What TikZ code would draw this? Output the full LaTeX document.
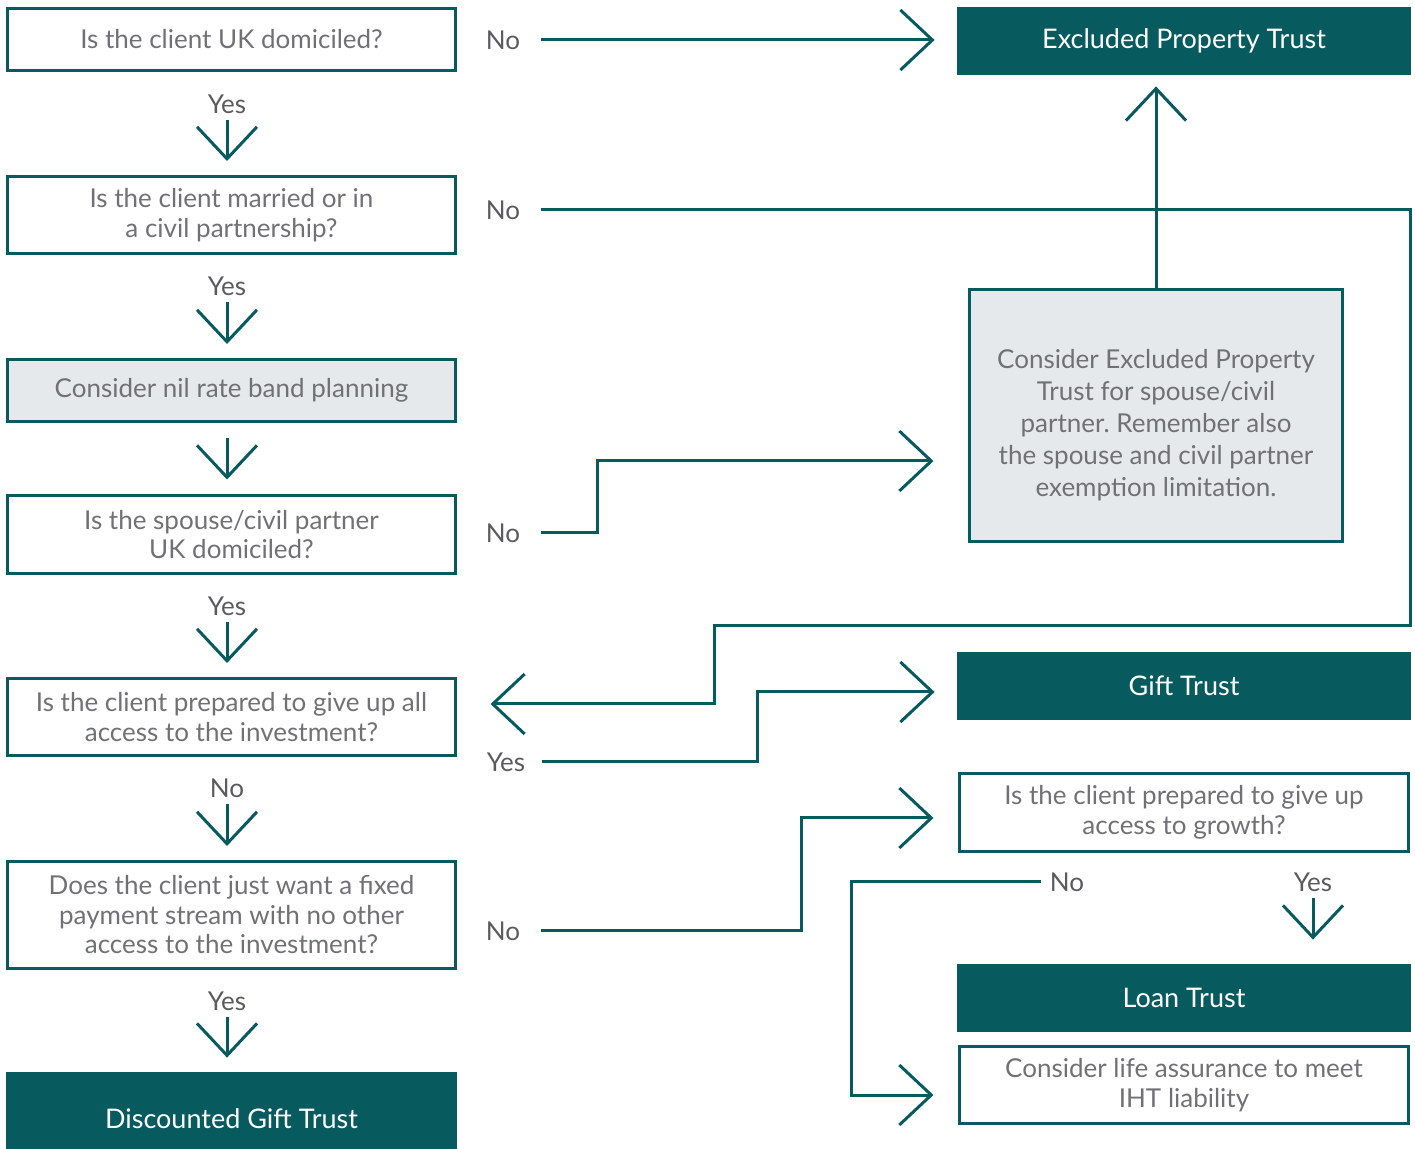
\documentclass[tikz,border=0pt]{standalone}
\usepackage{fontspec}
\setmainfont{Lato}
\usetikzlibrary{arrows.meta}
\definecolor{petrol}{HTML}{075B5E}
\definecolor{boxgrey}{HTML}{E6E9EC}
\definecolor{txtgrey}{HTML}{707174}
\definecolor{lblgrey}{HTML}{5A5B5E}
\frenchspacing

\begin{document}
\begin{tikzpicture}[x=0.5pt, y=-0.5pt,
	question/.style={draw=petrol, line width=1.5pt, text=txtgrey, align=center, inner sep=0pt,
		font=\fontsize{13}{14.75}\selectfont},
	greybox/.style={question, fill=boxgrey},
	outcome/.style={fill=petrol, text=white, inner sep=0pt, font=\fontsize{13.5}{15}\selectfont},
	answer/.style={text=lblgrey, inner sep=1pt, font=\fontsize{13}{15}\selectfont},
	arr/.style={draw=petrol, line width=1.5pt, -{Straight Barb[length=16pt, width=30pt]}}]
	\useasboundingbox (0,0) rectangle (1415,1149);

	% left column
	\node[question, minimum width=224pt, minimum height=31pt] (dom) at (231.5,39.5) {Is the client UK domiciled?};
	\node[question, minimum width=224pt, minimum height=38.5pt] (married) at (231.5,215) {Is the client married or in\\a civil partnership?};
	\node[greybox, minimum width=224pt, minimum height=31pt] (nrb) at (231.5,390.5) {Consider nil rate band planning};
	\node[question, minimum width=224pt, minimum height=39pt] (spouse) at (231.5,534.5) {Is the spouse/civil partner\\UK domiciled?};
	\node[question, minimum width=224pt, minimum height=38.5pt] (giveup) at (231.5,717) {Is the client prepared to give up all\\access to the investment?};
	\node[question, minimum width=224pt, minimum height=53.5pt] (fixed) at (231.5,915) {Does the client just want a fixed\\payment stream with no other\\access to the investment?};
	\node[outcome, minimum width=225.5pt, minimum height=47pt] (dgt) at (231.5,1119) {Discounted Gift Trust};

	% right column
	\node[outcome, minimum width=227pt, minimum height=34pt] (ept) at (1184,41) {Excluded Property Trust};
	\node[greybox, minimum width=186.5pt, minimum height=126pt, font=\fontsize{13}{16}\selectfont] (cept) at (1156,415.5)
		{\rule{0pt}{19pt}Consider Excluded Property\\Trust for spouse/civil\\partner. Remember also\\the spouse and civil partner\\exemption limitation.};
	\node[outcome, minimum width=227pt, minimum height=34pt] (gift) at (1184,686) {Gift Trust};
	\node[question, minimum width=224.5pt, minimum height=39pt] (growth) at (1184,812.5) {Is the client prepared to give up\\access to growth?};
	\node[outcome, minimum width=227pt, minimum height=34pt] (loan) at (1184,998) {Loan Trust};
	\node[question, minimum width=224.5pt, minimum height=38.5pt] (life) at (1184,1085) {Consider life assurance to meet\\IHT liability};

	% answers
	\node[answer] (no1) at (503,40) {No};
	\node[answer] (yes1) at (227,104) {Yes};
	\node[answer] (no2) at (503,210) {No};
	\node[answer] (yes2) at (227,286) {Yes};
	\node[answer] (no3) at (503,533) {No};
	\node[answer] (yes3) at (227,606) {Yes};
	\node[answer] (no4) at (227,788) {No};
	\node[answer] (yes4) at (506,762) {Yes};
	\node[answer] (no5) at (503,931) {No};
	\node[answer] (yes5) at (227,1001) {Yes};
	\node[answer] (no6) at (1067,882) {No};
	\node[answer] (yes6) at (1313,882) {Yes};

	\coordinate (rtop) at (1410,210);
	\coordinate (rbend) at (714,626);
	\coordinate (c3) at (597,461);
	\coordinate (c4) at (757,692);
	\coordinate (c5) at (801,818);
	\coordinate (c6) at (851,1095);

	% down the left
	\draw[arr, shorten <=2pt, shorten >=7pt] (yes1.south) -- (yes1.south |- married.north);
	\draw[arr, shorten <=2pt, shorten >=7pt] (yes2.south) -- (yes2.south |- nrb.north);
	\draw[arr, shorten <=7.75pt, shorten >=7.25pt] ([xshift=-2.25pt]nrb.south) -- ([xshift=-2.25pt]spouse.north);
	\draw[arr, shorten <=2pt, shorten >=7pt] (yes3.south) -- (yes3.south |- giveup.north);
	\draw[arr, shorten <=2pt, shorten >=7pt] (no4.south) -- (no4.south |- fixed.north);
	\draw[arr, shorten <=2pt, shorten >=7pt] (yes5.south) -- (yes5.south |- dgt.north);

	% across to the right
	\draw[arr, shorten <=9.5pt, shorten >=11pt] (no1.east) -- (no1.east -| ept.west);
	\draw[arr, shorten <=9.5pt, shorten >=16.75pt] (no2.east) -- (no2.east -| rtop) |- (rbend) |- ([yshift=6.5pt]giveup.east);
	\draw[arr, shorten <=9.5pt, shorten >=17.25pt] (no3.east) -| (c3) -- (c3 -| cept.west);
	\draw[arr, shorten >=5.5pt] (cept.north) -- (cept.north |- ept.south);
	\draw[arr, shorten <=7pt, shorten >=11pt] (yes4.east) -| (c4) -- (c4 -| gift.west);
	\draw[arr, shorten <=9.5pt, shorten >=12.25pt] (no5.east) -| (c5) -- (c5 -| growth.west);
	\draw[arr, shorten <=3.5pt, shorten >=12.25pt] (no6.west) -| (c6) -- (c6 -| life.west);
	\draw[arr, shorten <=2pt, shorten >=12pt] (yes6.south) -- (yes6.south |- loan.north);
\end{tikzpicture}
\end{document}
